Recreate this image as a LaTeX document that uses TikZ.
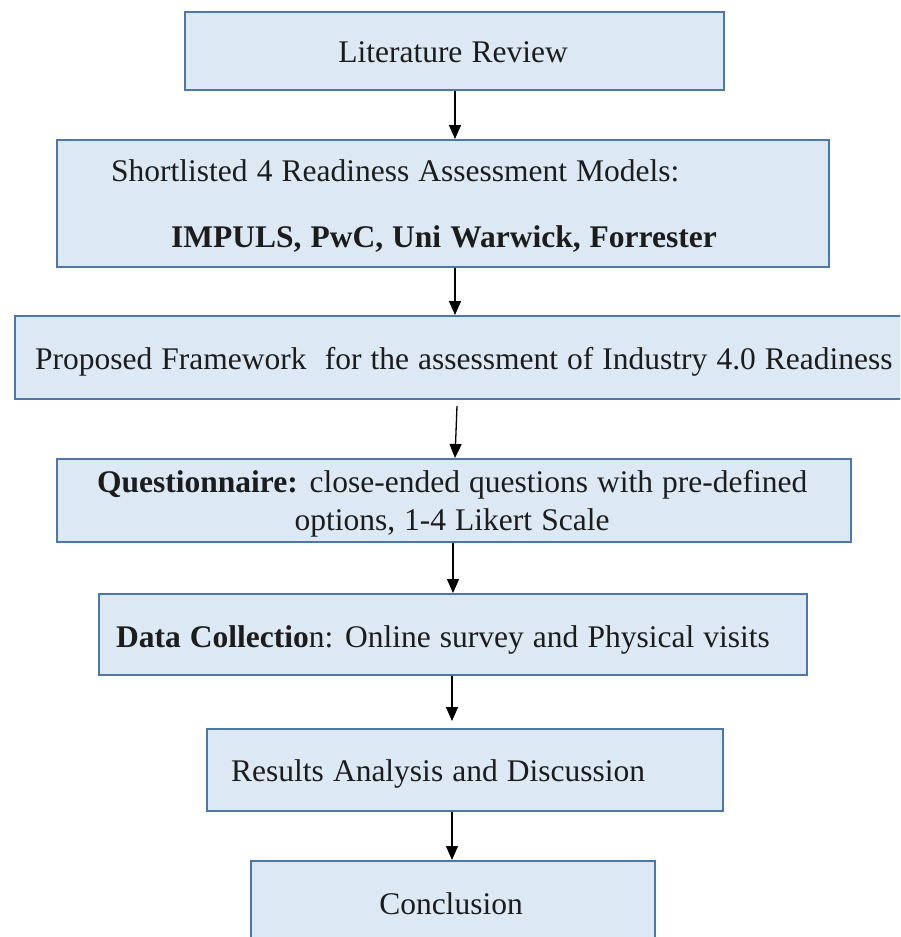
\documentclass[tikz,border=0pt]{standalone}
\usepackage{fontspec}
\setmainfont{Liberation Serif}[WordSpace=1.15]
\usetikzlibrary{arrows.meta}

\definecolor{boxfill}{HTML}{DDE8F5}
\definecolor{boxline}{HTML}{4C77AB}
\definecolor{ink}{HTML}{1C1C1C}

\tikzset{
  stage/.style={draw=boxline, fill=boxfill, line width=2pt, inner sep=0pt,
    anchor=north west},
  txt/.style={inner sep=0pt, text=ink, font=\fontsize{31.5}{37}\selectfont},
  flow/.style={draw=black, line width=1.3pt,
    -{Triangle[width=12pt,length=14pt]}, shorten >=0pt},
}

\begin{document}
\begin{tikzpicture}[x=1pt, y=-1pt]
  \useasboundingbox (0,0) rectangle (900,937);
  \clip (0,0) rectangle (900,937);

  % stages of the method, top to bottom
  \node[stage, minimum width=539pt, minimum height=78pt]  (lit)   at (184,11)  {};
  \node[stage, minimum width=772pt, minimum height=127pt] (short) at (56,139)  {};
  \node[stage, minimum width=900pt, minimum height=83pt]  (prop)  at (14,315)  {};
  \node[stage, minimum width=794pt, minimum height=83pt]  (quest) at (56,458)  {};
  \node[stage, minimum width=708pt, minimum height=81pt]  (data)  at (98,593)  {};
  \node[stage, minimum width=516pt, minimum height=82pt]  (res)   at (206,728) {};
  \node[stage, minimum width=404pt, minimum height=90pt]  (concl) at (250,860) {};

  % texts of the stages
  \node[txt, anchor=base]      (litT)   at (453,62)  {Literature Review};
  \node[txt, anchor=base west] (shortA) at (111,181) {Shortlisted 4 Readiness Assessment Models:};
  \node[txt, anchor=base]      (shortB) at (444,247) {\textbf{IMPULS, PwC, Uni Warwick, Forrester}};
  \node[txt, anchor=base west] (propT)  at (35,369)  {Proposed Framework\ \ for the assessment of Industry 4.0 Readiness};
  \node[txt, anchor=base west] (questA) at (97,492)  {\textbf{Questionnaire:} close-ended questions with pre-defined};
  \node[txt, anchor=base]      (questB) at (452,530) {options, 1-4 Likert Scale};
  \node[txt, anchor=base west] (dataT)  at (116,647) {\textbf{Data Collectio}n: Online survey and Physical visits};
  \node[txt, anchor=base west] (resT)   at (231,781) {Results Analysis and Discussion};
  \node[txt, anchor=base]      (conclT) at (451,914) {Conclusion};

  % x positions of the connectors
  \coordinate (x1) at (455,0);
  \coordinate (x2) at (455,0);
  \coordinate (x3a) at (457,0);
  \coordinate (x3b) at (455,0);
  \coordinate (x4) at (453,0);
  \coordinate (x5) at (452,0);
  \coordinate (x6) at (452,0);

  % connectors
  \draw[flow] (lit.south -| x1) -- (short.north -| x1);
  \draw[flow] (short.south -| x2) -- (prop.north -| x2);
  \draw[flow] ([yshift=-6pt]prop.south -| x3a) -- (quest.north -| x3b);
  \draw[flow] (quest.south -| x4) -- (data.north -| x4);
  \draw[flow] (data.south -| x5) -- ([yshift=7pt]res.north -| x5);
  \draw[flow] (res.south -| x6) -- (concl.north -| x6);
\end{tikzpicture}
\end{document}
